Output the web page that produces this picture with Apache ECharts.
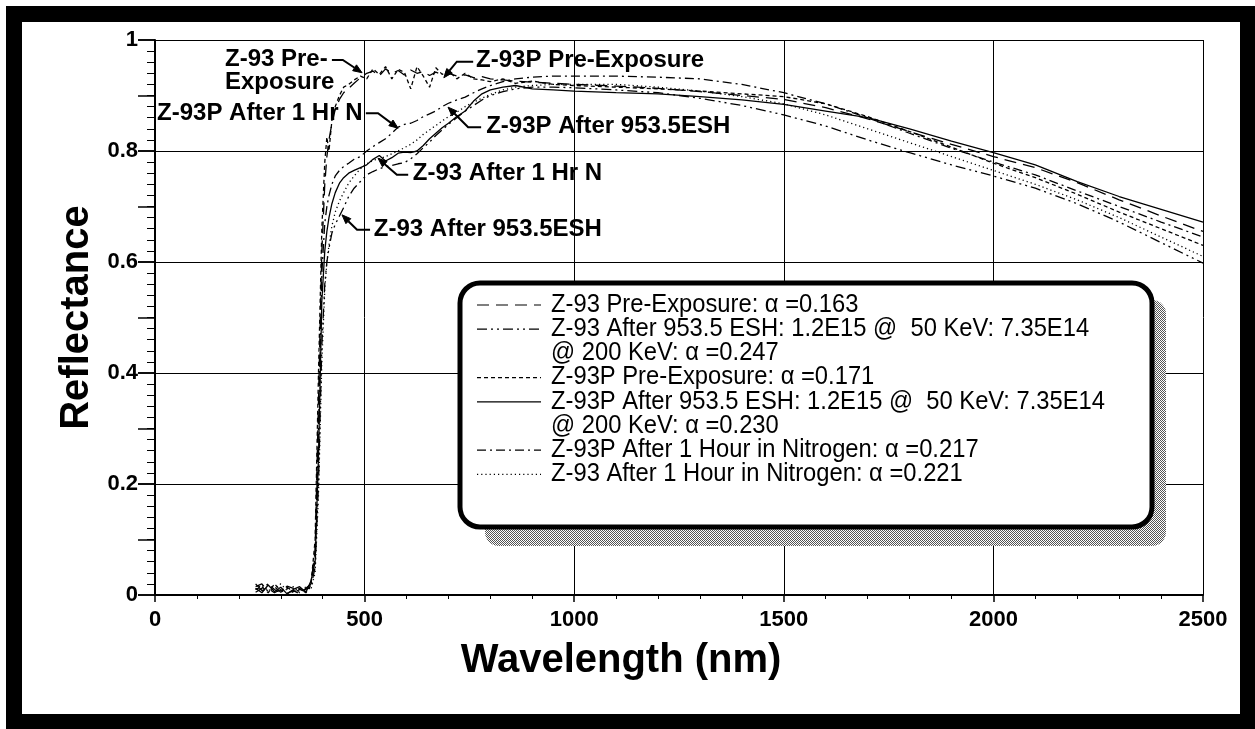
<!DOCTYPE html>
<html><head><meta charset="utf-8">
<script src="https://cdn.jsdelivr.net/npm/echarts@6/dist/echarts.min.js"></script>
<style>html,body{margin:0;padding:0;background:#fff}#c{width:1255px;height:729px}</style>
</head><body><div id="c"></div>
<script>
// ---------------- DATA ----------------
const wavelength = [240,255,270,285,300,315,330,345,360,372,382,390,398,405,410,415,422,430,440,450,462,475,490,505,520,535,550,565,580,595,610,625,640,655,670,685,700,720,740,760,780,800,830,860,900,950,1000,1100,1200,1300,1400,1500,1600,1700,1800,1900,2000,2100,2200,2300,2400,2500];

const z93Pre = [0.020,0.008,0.012,0.004,0.010,0.003,0.008,0.002,0.012,0.020,0.08,0.35,0.62,0.74,0.79,0.82,0.85,0.875,0.893,0.905,0.913,0.922,0.932,0.940,0.944,0.935,0.948,0.940,0.945,0.937,0.946,0.940,0.943,0.936,0.942,0.938,0.940,0.935,0.937,0.932,0.934,0.930,0.928,0.926,0.924,0.922,0.920,0.917,0.913,0.907,0.900,0.893,0.878,0.858,0.835,0.812,0.790,0.770,0.743,0.712,0.683,0.655];

const z93Esh = [0.015,0.020,0.006,0.015,0.005,0.012,0.004,0.010,0.006,0.015,0.05,0.20,0.45,0.56,0.60,0.625,0.652,0.668,0.683,0.698,0.718,0.733,0.745,0.757,0.763,0.768,0.772,0.774,0.777,0.779,0.786,0.795,0.806,0.816,0.828,0.838,0.848,0.860,0.872,0.882,0.892,0.900,0.907,0.912,0.915,0.915,0.914,0.910,0.905,0.895,0.882,0.865,0.845,0.820,0.797,0.775,0.755,0.733,0.705,0.672,0.635,0.598];

const z93pPre = [0.010,0.015,0.004,0.020,0.008,0.014,0.006,0.012,0.004,0.018,0.10,0.40,0.66,0.78,0.825,0.80,0.855,0.88,0.90,0.915,0.920,0.928,0.935,0.930,0.948,0.938,0.952,0.930,0.947,0.942,0.912,0.952,0.935,0.915,0.950,0.938,0.945,0.930,0.940,0.930,0.928,0.925,0.930,0.922,0.926,0.920,0.918,0.915,0.912,0.908,0.903,0.898,0.885,0.862,0.835,0.807,0.778,0.752,0.722,0.690,0.660,0.630];

const z93pEsh = [0.012,0.004,0.018,0.006,0.014,0.002,0.010,0.015,0.005,0.025,0.06,0.25,0.53,0.62,0.655,0.68,0.705,0.725,0.742,0.752,0.760,0.765,0.770,0.775,0.785,0.792,0.782,0.788,0.796,0.798,0.797,0.800,0.810,0.822,0.832,0.842,0.850,0.862,0.872,0.890,0.903,0.910,0.915,0.918,0.912,0.910,0.908,0.905,0.903,0.898,0.892,0.884,0.872,0.860,0.840,0.818,0.797,0.775,0.745,0.718,0.695,0.672];

const z93pN = [0.005,0.012,0.020,0.010,0.004,0.016,0.012,0.006,0.010,0.020,0.07,0.30,0.58,0.67,0.70,0.72,0.74,0.755,0.765,0.772,0.778,0.785,0.790,0.800,0.808,0.815,0.822,0.832,0.843,0.848,0.850,0.855,0.862,0.867,0.872,0.880,0.886,0.892,0.897,0.905,0.912,0.918,0.925,0.930,0.933,0.935,0.935,0.935,0.933,0.930,0.920,0.905,0.885,0.860,0.832,0.805,0.780,0.757,0.728,0.700,0.672,0.645];

const z93N = [0.010,0.018,0.008,0.012,0.020,0.008,0.015,0.004,0.015,0.010,0.04,0.18,0.42,0.55,0.60,0.63,0.665,0.69,0.71,0.725,0.742,0.755,0.768,0.777,0.783,0.786,0.790,0.795,0.800,0.806,0.812,0.820,0.830,0.838,0.846,0.854,0.862,0.870,0.880,0.888,0.895,0.902,0.910,0.915,0.918,0.920,0.920,0.920,0.915,0.908,0.898,0.885,0.865,0.840,0.815,0.790,0.765,0.740,0.712,0.680,0.645,0.610];

const seriesNames = ['Z-93 Pre-Exposure','Z-93 After 953.5 ESH','Z-93P Pre-Exposure','Z-93P After 953.5 ESH','Z-93P After 1 Hour in Nitrogen','Z-93 After 1 Hour in Nitrogen'];
const seriesValues = [z93Pre, z93Esh, z93pPre, z93pEsh, z93pN, z93N];

const legendTexts = [
  ['Z-93 Pre-Exposure: \u03b1 =0.163'],
  ['Z-93 After 953.5 ESH: 1.2E15 @  50 KeV: 7.35E14', '@ 200 KeV: \u03b1 =0.247'],
  ['Z-93P Pre-Exposure: \u03b1 =0.171'],
  ['Z-93P After 953.5 ESH: 1.2E15 @  50 KeV: 7.35E14', '@ 200 KeV: \u03b1 =0.230'],
  ['Z-93P After 1 Hour in Nitrogen: \u03b1 =0.217'],
  ['Z-93 After 1 Hour in Nitrogen: \u03b1 =0.221']
];

// annotations: label text, label anchor [x,y], leader start, elbow, arrow tip (data coords)
const annoTexts = ['Z-93 Pre-\nExposure','Z-93P Pre-Exposure','Z-93P After 1 Hr N','Z-93P After 953.5ESH','Z-93 After 1 Hr N','Z-93 After 953.5ESH'];
const annoLabelAt = [[167,0.944],[766,0.964],[5,0.867],[790,0.845],[615,0.759],[522,0.659]];
const annoStart   = [[422,0.964],[759,0.961],[503,0.868],[778,0.843],[604,0.757],[513,0.658]];
const annoElbow   = [[448,0.964],[720,0.961],[532,0.868],[747,0.843],[577,0.757],[482,0.658]];
const annoTip     = [[494,0.941],[689,0.932],[580,0.841],[699,0.879],[532,0.787],[446,0.685]];

// ---------------- STYLE ----------------
const dashes = [[12,7],[10,4,2,4,2,4],[4,3],'solid',[9,4,2,4],[1.2,3]];
const FONT = '"Liberation Sans", Arial, Helvetica, sans-serif';

const chart = echarts.init(document.getElementById('c'), null, {renderer:'canvas'});

const option = {
  animation:false,
  backgroundColor:'#fff',
  grid:{left:155, right:52, top:40, bottom:134, containLabel:false},
  xAxis:{
    type:'value', min:0, max:2500, interval:500,
    axisLine:{show:true, onZero:false, lineStyle:{color:'#000', width:2}},
    axisTick:{show:true, length:7, lineStyle:{color:'#000', width:1.5}},
    minorTick:{show:true, splitNumber:5, length:4, lineStyle:{color:'#000', width:1}},
    splitLine:{show:true, lineStyle:{color:'#000', width:1}},
    axisLabel:{fontSize:22, fontWeight:'bold', color:'#000', margin:14, fontFamily:FONT,
      formatter:(v)=>String(v)},
    name:'Wavelength (nm)', nameLocation:'middle', nameGap:46,
    nameTextStyle:{fontSize:40, fontWeight:'bold', color:'#000', fontFamily:FONT, padding:[0,116,0,0]}
  },
  yAxis:[{
    type:'value', min:0, max:1, interval:0.2,
    axisLine:{show:true, onZero:false, lineStyle:{color:'#000', width:2}},
    axisTick:{show:true, length:17, lineStyle:{color:'#000', width:1.5}},
    minorTick:{show:true, splitNumber:10, length:8, lineStyle:{color:'#000', width:1}},
    splitLine:{show:true, lineStyle:{color:'#000', width:1}},
    axisLabel:{fontSize:22, fontWeight:'bold', color:'#000', margin:17, fontFamily:FONT,
      formatter:(v)=>String(Math.round(v*10)/10)},
    name:'Reflectance', nameLocation:'middle', nameGap:47,
    nameTextStyle:{fontSize:40, fontWeight:'bold', color:'#000', fontFamily:FONT}
  },{
    type:'value', min:0, max:1, interval:0.1, position:'left',
    axisLine:{show:false}, axisLabel:{show:false}, splitLine:{show:false},
    axisTick:{show:true, length:17, lineStyle:{color:'#000', width:1.5}}
  }],
  series: seriesValues.map((vals,i)=>({
    type:'line', name:seriesNames[i], yAxisIndex:0,
    data: wavelength.map((w,j)=>[w, vals[j]]),
    symbol:'none', smooth:false,
    lineStyle:{color:'#000', width:1.3, type:dashes[i]},
    z:3
  }))
};
chart.setOption(option);

// ---------------- GRAPHICS (frame, legend, annotations) ----------------
function P(pt){ return chart.convertToPixel({gridIndex:0}, pt); }

const g = [];
// outer frame
g.push({type:'rect', z:200, shape:{x:14, y:14, width:1234, height:708}, style:{fill:null, stroke:'#000', lineWidth:16}});

// legend shadow (stipple pattern)
const pc = document.createElement('canvas'); pc.width=2; pc.height=2;
const pctx = pc.getContext('2d'); pctx.fillStyle='#fff'; pctx.fillRect(0,0,2,2);
pctx.fillStyle='#555'; pctx.fillRect(0,0,1,1); pctx.fillRect(1,1,1,1);
g.push({type:'rect', z:100, shape:{x:485, y:300, width:681, height:246, r:14}, style:{fill:{image:pc, repeat:'repeat'}, stroke:null}});
// legend box
g.push({type:'rect', z:101, shape:{x:460, y:283, width:692, height:244, r:20}, style:{fill:'#fff', stroke:'#000', lineWidth:5}});

let row = 0;
legendTexts.forEach((lines,i)=>{
  const yc = 305 + row*24.2;
  g.push({type:'line', z:102, shape:{x1:477, y1:yc, x2:541, y2:yc},
    style:{stroke:'#000', lineWidth:1.2, lineDash: dashes[i]==='solid'?null:dashes[i]}});
  lines.forEach((t,k)=>{
    g.push({type:'text', z:102, x:551, y:305 + (row+k)*24.2, scaleX:0.95,
      style:{text:t, font:'25px '+FONT, fill:'#000', verticalAlign:'middle', textVerticalAlign:'middle'}});
  });
  row += lines.length;
});

// annotations
annoTexts.forEach((t,i)=>{
  const lp = P(annoLabelAt[i]);
  const s = P(annoStart[i]), e = P(annoElbow[i]), tip = P(annoTip[i]);
  g.push({type:'text', z:110, x:lp[0], y:lp[1],
    style:{text:t, font:'bold 24px '+FONT, fill:'#000', verticalAlign:'middle', textVerticalAlign:'middle', lineHeight:23}});
  const dx = tip[0]-e[0], dy = tip[1]-e[1], L = Math.hypot(dx,dy);
  const ux = dx/L, uy = dy/L, al = 9, aw = 3.5;
  const bx = tip[0]-ux*al, by = tip[1]-uy*al;
  g.push({type:'polyline', z:110, shape:{points:[s,e,[bx,by]]}, style:{stroke:'#000', lineWidth:2, fill:null}});
  g.push({type:'polygon', z:110, shape:{points:[tip,[bx-uy*aw, by+ux*aw],[bx+uy*aw, by-ux*aw]]}, style:{fill:'#000', stroke:'#000', lineWidth:1}});
});

chart.setOption({graphic:g});
</script>
</body></html>
